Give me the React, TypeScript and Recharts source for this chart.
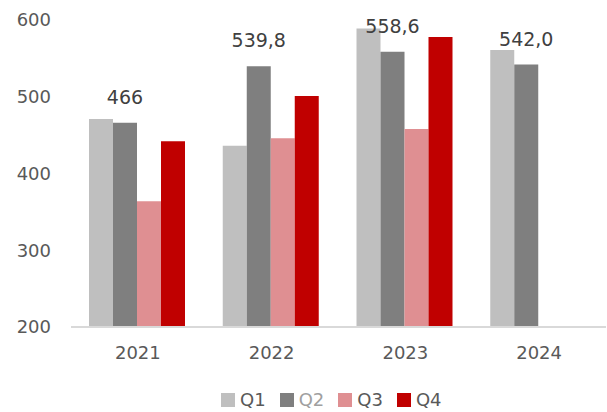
import React from 'react'
import { BarChart, Bar, XAxis, YAxis, LabelList } from 'recharts'

const years = ['2021', '2022', '2023', '2024']
const q1 = [471, 436, 589, 561]
const q2 = [466, 539.8, 558.6, 542.0]
const q3 = [364, 446, 458, null]
const q4 = [442, 501, 578, null]
const q2Labels = ['466', '539,8', '558,6', '542,0']
const yTicks = [200, 300, 400, 500, 600]

const series = [
  { key: 'Q1', fill: '#BFBFBF', text: '#595959' },
  { key: 'Q2', fill: '#7F7F7F', text: '#A0A0A0' },
  { key: 'Q3', fill: '#DF8F92', text: '#595959' },
  { key: 'Q4', fill: '#C00000', text: '#595959' },
]

const FONT = '"DejaVu Sans", sans-serif'

const chartData = years.map((year, i) => ({
  year,
  Q1: q1[i],
  Q2: q2[i],
  Q3: q3[i],
  Q4: q4[i],
  q2Label: q2Labels[i],
}))

const LegendRow = () => (
  <div
    style={{
      position: 'absolute',
      left: 221,
      top: 389,
      display: 'flex',
      alignItems: 'center',
      fontFamily: FONT,
      fontSize: 18,
      lineHeight: '22px',
    }}
  >
    {series.map((s) => (
      <div key={s.key} style={{ display: 'flex', alignItems: 'center', marginRight: 14 }}>
        <span style={{ width: 14, height: 14, background: s.fill, display: 'inline-block', marginRight: 5 }} />
        <span style={{ color: s.text }}>{s.key}</span>
      </div>
    ))}
  </div>
)

export default function App() {
  return (
    <div style={{ position: 'absolute', left: 0, top: 0, width: 607, height: 412, background: '#fff' }}>
      <BarChart
        width={607}
        height={412}
        data={chartData}
        margin={{ top: 20, right: 1, bottom: 55, left: 0 }}
        barCategoryGap={18}
        barGap={0}
      >
        <XAxis
          dataKey="year"
          height={30}
          axisLine={{ stroke: '#D9D9D9', strokeWidth: 2 }}
          tickLine={false}
          tickSize={0}
          tickMargin={19}
          tick={{ fill: '#595959', fontSize: 18, fontFamily: FONT }}
        />
        <YAxis
          domain={[200, 600]}
          ticks={yTicks}
          allowDataOverflow
          width={71}
          axisLine={false}
          tickLine={false}
          tickSize={0}
          tickMargin={20}
          tick={{ fill: '#595959', fontSize: 18, fontFamily: FONT }}
        />
        {series.map((s) => (
          <Bar key={s.key} dataKey={s.key} fill={s.fill} isAnimationActive={false}>
            {s.key === 'Q2' && (
              <LabelList
                dataKey="q2Label"
                position="top"
                offset={19}
                fill="#404040"
                fontSize={19}
                fontFamily={FONT}
              />
            )}
          </Bar>
        ))}
      </BarChart>
      <LegendRow />
    </div>
  )
}
